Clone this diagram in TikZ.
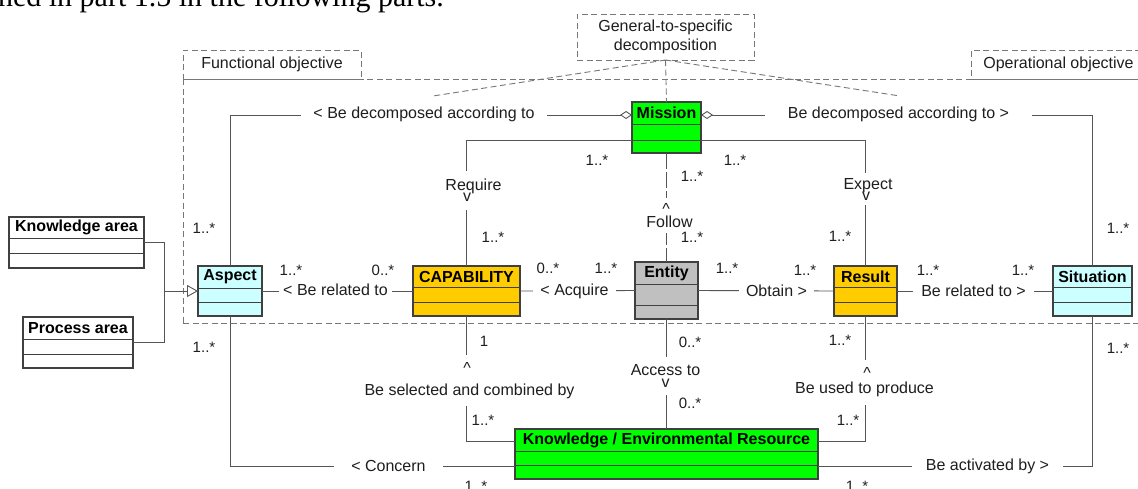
\documentclass[tikz,border=0pt]{standalone}
\usepackage{fontspec}
\setmainfont{Liberation Sans}
\newfontfamily\serifintro{Liberation Serif}
\usetikzlibrary{arrows.meta,calc}
\definecolor{umlgreen}{HTML}{00FF00}
\definecolor{umlorange}{HTML}{FFCC00}
\definecolor{umlcyan}{HTML}{CCFFFF}
\definecolor{umlgray}{HTML}{C0C0C0}
\definecolor{linegray}{HTML}{555555}
\definecolor{bordergray}{HTML}{404040}
\definecolor{dashgray}{HTML}{777777}
\definecolor{txt}{HTML}{1E1E1E}
\newcommand\tightlines{\lineskiplimit=-20pt\relax}
\tikzset{
  clsbox/.style={draw=bordergray, line width=1.1pt, inner sep=0pt, outer sep=0pt},
  clstitle/.style={font=\bfseries\fontsize{16}{18}\selectfont, text=black, inner sep=0pt},
  clsline/.style={draw=bordergray, line width=1pt},
  conn/.style={draw=linegray, line width=0.9pt},
  dashln/.style={draw=dashgray, line width=0.9pt, dash pattern=on 6pt off 3.5pt},
  dashbox/.style={dashln, inner sep=0pt, outer sep=0pt, font=\fontsize{16}{19}\selectfont, text=txt},
  lbl/.style={fill=white, font=\fontsize{16}{11}\selectfont\tightlines, text=txt, inner ysep=1.5pt, align=center},
  mult/.style={font=\fontsize{15}{15}\selectfont, text=txt, inner sep=0pt},
  aggr/.style={{Diamond[open,length=12pt,width=8pt]}-},
}
% name, x1, y1, x2, y2, sep1, sep2, fill, title
\newcommand\umlclass[9]{%
  \node[clsbox, fill=#8, minimum width={(#4-#2)*1pt}, minimum height={(#5-#3)*1pt}, anchor=north west] (#1) at (#2,#3) {};
  \draw[clsline] (#2,#6) -- (#4,#6) (#2,#7) -- (#4,#7);
  \node[clstitle] (#1-title) at ({(#2+#4)/2},{(#3+#6)/2}) {#9};
}
\begin{document}
\begin{tikzpicture}[x=1pt,y=-1pt]
\useasboundingbox (0,0) rectangle (1138,488);
\fill[white] (0,0) rectangle (1138,488);

% fragment of the surrounding text
\node[anchor=base east, inner sep=0pt, font=\serifintro\fontsize{30}{34}\selectfont] (intro) at (444,6) {ned in part 1.5 in the following parts.};

% dashed regions
\node[dashbox, minimum width=980pt, minimum height=244pt, anchor=north west] (fnscope) at (183,79) {};
\node[dashbox, minimum width=178pt, minimum height=29pt, anchor=north west] (func) at (183,50) {Functional objective};
\node[dashbox, minimum width=175pt, minimum height=29pt, anchor=north west] (oper) at (971,50) {Operational objective};
\node[dashbox, align=center, minimum width=177pt, minimum height=46pt, anchor=north west] (gen) at (577,14) {General-to-specific\\decomposition};

% classes
\umlclass{mission}{632}{102}{701}{153}{124}{140}{umlgreen}{Mission}
\umlclass{knowledge}{9}{217}{144}{268}{238}{253}{white}{Knowledge area}
\umlclass{process}{23}{317}{133}{368}{339}{354}{white}{Process area}
\umlclass{aspect}{198}{266}{262}{316}{288}{302}{umlcyan}{Aspect}
\umlclass{capability}{413}{266}{520}{316}{287}{302}{umlorange}{CAPABILITY}
\umlclass{entity}{635}{262}{698}{319}{284}{305}{umlgray}{Entity}
\umlclass{result}{834}{266}{897}{316}{287}{302}{umlorange}{Result}
\umlclass{situation}{1053}{266}{1132}{316}{287}{302}{umlcyan}{Situation}
\umlclass{ke}{515}{429}{818}{479}{451}{465}{umlgreen}{Knowledge / Environmental Resource}

% dashed decomposition lines
\coordinate (gL) at (433,96);
\coordinate (gR) at (900,96);
\draw[dashln] (gen.south) -- (gL);
\draw[dashln] (gen.south) -- (gR);
\draw[dashln] (gen.south) -- (mission.north);

% connectors
\draw[conn,aggr] ($(mission.north west)+(0,13)$) -| (aspect.north);
\draw[conn,aggr] ($(mission.north east)+(0,13)$) -| (situation.north);
\draw[conn] ($(mission.south west)+(0,-13)$) -| (capability.north);
\draw[conn] ($(mission.south east)+(0,-13)$) -| (result.north);
\draw[conn, dash pattern=on 16pt off 3pt] (mission.south) -- (entity.north);
\coordinate (gj) at (164,291);
\draw[conn] (knowledge.east) -| (gj);
\draw[conn] (process.east) -| (gj);
\draw[conn,-{Triangle[open,length=11pt,width=12pt]}] (gj) -- (aspect.west);
\draw[conn] (aspect.east) -- (capability.west);
\draw[conn] (capability.east) -- (entity.west);
\draw[conn] (entity.east) -- (result.west);
\draw[conn] (result.east) -- (situation.west);
\draw[conn] (capability.south) |- ($(ke.north west)+(0,12)$);
\draw[conn] (entity.south) -- (ke.north);
\draw[conn] (result.south) |- ($(ke.north east)+(0,12)$);
\draw[conn] (aspect.south) |- ($(ke.south west)+(0,-13)$);
\draw[conn] (situation.south) |- ($(ke.south east)+(0,-13)$);

% association labels
\node[lbl, inner xsep=12pt] (decL) at (424,114) {< Be decomposed according to};
\node[lbl, inner xsep=23pt] (decR) at (898.5,114) {Be decomposed according to >};
\node[lbl, inner xsep=4.5pt] (relL) at (335.5,290) {< Be related to};
\node[lbl, inner xsep=7pt] (acq) at (574.5,291) {< Acquire};
\node[lbl, inner xsep=7.5pt] (obt) at (776.5,291) {Obtain >};
\node[lbl, inner xsep=8pt] (relR) at (973.5,291) {Be related to >};
\node[lbl, inner xsep=17pt] (conc) at (388.5,466) {< Concern};
\node[lbl, inner xsep=14pt] (act) at (987.5,466) {Be activated by >};
\node[lbl, inner ysep=0pt, minimum height=39pt] (req) at (473.5,190.5) {Require\\v\hspace*{13pt}};
\node[lbl, inner ysep=0pt, minimum height=32pt] (expl) at (868,189) {Expect\\v\hspace*{4pt}};
\node[lbl, inner ysep=0pt, minimum height=35pt] (fol) at (669.5,215.5) {\textasciicircum\hspace*{7pt}\\[1.5pt]Follow};
\node[lbl, inner ysep=0pt, minimum height=51pt] (sel) at (469.5,380.5) {\textasciicircum\hspace*{5pt}\\[11.5pt]Be selected and combined by};
\node[lbl, inner ysep=0pt, minimum height=38pt] (acc) at (665.5,376) {Access to\\[1pt]v};
\node[lbl, inner ysep=0pt, minimum height=45pt] (use) at (864.5,382) {\hspace*{5pt}\textasciicircum\\[4.5pt]Be used to produce};

% multiplicities
\node[mult] (m1) at (597,160) {1..*};
\node[mult] (m2) at (735,160) {1..*};
\node[mult] (m3) at (692,176) {1..*};
\node[mult] (m4) at (692,237) {1..*};
\node[mult] (m5) at (493,237) {1..*};
\node[mult] (m6) at (840,236) {1..*};
\node[mult] (m7) at (204,228) {1..*};
\node[mult] (m8) at (204,347) {1..*};
\node[mult] (m9) at (291,270) {1..*};
\node[mult] (m10) at (383,270) {0..*};
\node[mult] (m11) at (548,268) {0..*};
\node[mult] (m12) at (606,268) {1..*};
\node[mult] (m13) at (727,268) {1..*};
\node[mult] (m14) at (805,270) {1..*};
\node[mult] (m15) at (928,270) {1..*};
\node[mult] (m16) at (1023,270) {1..*};
\node[mult] (m17) at (1118,228) {1..*};
\node[mult] (m18) at (1118,348) {1..*};
\node[mult] (m19) at (484,341) {1};
\node[mult] (m20) at (690,342) {0..*};
\node[mult] (m21) at (840,340) {1..*};
\node[mult] (m22) at (483,420) {1..*};
\node[mult] (m23) at (690,403) {0..*};
\node[mult] (m24) at (848,420) {1..*};
\node[mult] (m25) at (476,486) {1..*};
\node[mult] (m26) at (857,486) {1..*};
\end{tikzpicture}
\end{document}
